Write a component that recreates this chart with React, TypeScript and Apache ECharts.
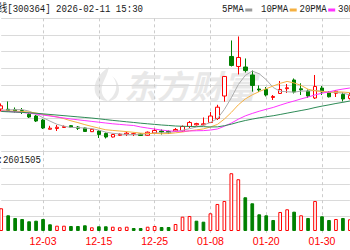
import React, { useEffect, useRef } from "react";
import * as echarts from "echarts";

// ---- data ----
const dates = [
  "11-25", "11-26", "11-27", "11-28", "12-01", "12-02", "12-03", "12-04", "12-05", "12-08",
  "12-09", "12-10", "12-11", "12-12", "12-15", "12-16", "12-17", "12-18", "12-19", "12-22",
  "12-23", "12-24", "12-25", "12-26", "12-29", "12-30", "12-31", "01-05", "01-06", "01-07",
  "01-08", "01-09", "01-12", "01-13", "01-14", "01-15", "01-16", "01-19", "01-20", "01-21",
  "01-22", "01-23", "01-26", "01-27", "01-28", "01-29", "01-30", "02-02", "02-03", "02-04",
  "02-05",
];
const opens = [
  26.40, 26.36, 26.33, 26.18, 25.61, 25.35, 24.75, 23.36, 23.48, 23.63,
  23.90, 23.70, 23.55, 23.00, 23.10, 22.73, 22.20, 22.46, 22.61, 22.58,
  22.65, 22.46, 22.80, 23.10, 23.03, 23.10, 23.10, 23.78, 24.03, 24.03,
  24.38, 24.98, 28.35, 34.28, 32.78, 32.70, 31.50, 29.40, 29.33, 28.13,
  28.73, 29.45, 30.75, 29.43, 29.10, 28.05, 29.55, 28.88, 28.76, 28.58,
  27.98,
];
const closes = [
  26.88, 26.18, 26.10, 26.03, 25.20, 24.60, 23.55, 23.52, 23.66, 23.78,
  23.66, 23.51, 23.03, 23.36, 22.58, 22.20, 22.58, 22.61, 22.77, 22.70,
  22.43, 22.92, 23.18, 22.95, 22.80, 23.33, 23.78, 24.38, 24.21, 24.18,
  25.35, 26.67, 31.28, 32.93, 34.13, 32.18, 29.93, 29.25, 28.50, 28.28,
  29.33, 29.58, 28.95, 29.28, 28.35, 29.78, 28.95, 28.23, 29.06, 27.90,
  28.43,
];
const lows = [
  26.03, 26.10, 25.88, 25.65, 25.05, 24.45, 23.40, 23.33, 23.10, 23.55,
  23.55, 23.25, 22.95, 22.95, 22.05, 21.98, 22.13, 22.35, 22.35, 22.35,
  22.35, 22.40, 22.73, 22.58, 22.65, 22.95, 22.95, 23.55, 23.91, 23.93,
  24.30, 24.75, 27.50, 32.78, 31.58, 31.88, 29.00, 28.95, 28.28, 27.75,
  28.65, 28.80, 28.73, 28.50, 28.05, 27.90, 28.50, 28.13, 28.20, 27.53,
  27.83,
];
const highs = [
  27.23, 27.53, 26.63, 26.55, 25.80, 25.50, 24.90, 23.88, 24.00, 23.93,
  24.00, 23.85, 23.60, 23.51, 23.25, 22.88, 22.70, 22.76, 23.00, 22.85,
  22.73, 23.03, 23.48, 23.33, 23.18, 23.55, 23.93, 24.60, 24.33, 25.13,
  25.95, 27.03, 31.35, 36.68, 37.28, 33.98, 32.18, 29.93, 29.70, 28.50,
  30.60, 30.15, 30.98, 30.26, 29.33, 31.50, 29.85, 29.10, 29.25, 28.88,
  28.80,
];
const volumes = [
  1410000, 975000, 807000, 745000, 602000, 640000, 745000, 416000, 329000, 329000,
  311000, 311000, 354000, 230000, 292000, 292000, 267000, 230000, 267000, 186000,
  186000, 267000, 311000, 248000, 248000, 435000, 888000, 932000, 640000, 578000,
  1099000, 1677000, 1863000, 3584000, 3211000, 2093000, 1720000, 1037000, 975000, 683000,
  1180000, 1348000, 1199000, 975000, 807000, 1863000, 913000, 683000, 745000, 807000,
  727000,
];
// moving-average values at the left edge, where earlier history is not in the picture
const ma5Head = [26.22, 26.27, 26.30, 26.31];
const ma10Head = [26.13, 26.10, 26.07, 26.03, 25.95, 25.80, 25.61, 25.41, 25.21];
const ma20Head = [
  26.10, 26.03, 25.95, 25.88, 25.77, 25.65, 25.50, 25.35, 25.20, 25.05,
  24.90, 24.78, 24.66, 24.54, 24.42, 24.30, 24.18, 24.09, 24.00,
];
const ma30Head = [
  26.03, 25.98, 25.94, 25.89, 25.83, 25.76, 25.67, 25.58, 25.49, 25.40,
  25.31, 25.22, 25.13, 25.04, 24.93, 24.81, 24.69, 24.59, 24.48, 24.38,
  24.27, 24.18, 24.09, 24.00, 23.93, 23.85, 23.81, 23.78, 23.76,
];
const maNames = ["5PMA", "10PMA", "20PMA", "30PMA"];
const maColors = ["#ababab", "#f5b041", "#ff33ff", "#2e8b57"];
const markerColors = ["#9a9a9a", "#f5b041", "#ff33ff", "#2e8b57"];
const headerText = "线[300364] 2026-02-11 15:30";
const volumeText = ":2601505";
const priceTicks = { min: 20, max: 40, interval: 2.5 };
const volumeTicks = { min: -111700, interval: 1000000, count: 5 };

const RED = "#ff0000";
const GREEN = "#008000";

function movingAverage(n: number, head: number[]) {
  return closes.map((_, i) => {
    if (i < head.length) return head[i];
    let s = 0;
    for (let j = i - n + 1; j <= i; j++) s += closes[j];
    return +(s / n).toFixed(3);
  });
}

const LOGO_D =
  "M16 0 C6 6 0 16 2 25 C3.5 31 9 34 15 34 C9 30 7 23 10 16 C12 11 15 6 16 0 Z " +
  "M19 9 C24 14 25 22 20 29 C18 31.5 16 33 15 34 C22 34 26 29 26 22 C26 17 23 12 19 9 Z";
let logoRegistered = false;

const isMarked = (i: number) => (i + 2) % 8 === 0;

export default function App() {
  const ref = useRef<HTMLDivElement>(null);
  useEffect(() => {
    document.body.style.margin = "0";
    if (!logoRegistered) {
      echarts.graphic.registerShape("emlogo", echarts.graphic.extendPath(LOGO_D, {}) as any);
      logoRegistered = true;
    }
    const chart = echarts.init(ref.current as HTMLDivElement, null, { renderer: "svg" });
    const mas = [
      movingAverage(5, ma5Head),
      movingAverage(10, ma10Head),
      movingAverage(20, ma20Head),
      movingAverage(30, ma30Head),
    ];
    const candleData = opens.map((o, i) => [o, closes[i], lows[i], highs[i]]);
    const volData = volumes.map((v, i) => {
      const up = i === 0 ? closes[0] >= opens[0] : closes[i] >= closes[i - 1];
      return {
        value: v,
        itemStyle: up
          ? { color: "#ffffff", borderColor: RED, borderWidth: 1 }
          : { color: GREEN, borderColor: GREEN, borderWidth: 1 },
      };
    });
    const dashed = { show: true, interval: isMarked, lineStyle: { color: "#cccccc", type: [3, 3], width: 1 } };
    const hLine = "#dadada";
    const mono = '11px "Liberation Mono", "Noto Sans CJK SC", monospace';
    const sx = 0.824;

    const legendX = [222, 261, 299.5, 338];
    const legendEls: any[] = [];
    maNames.forEach((n, i) => {
      legendEls.push({
        type: "text", x: legendX[i], y: 9.5, scaleX: sx,
        style: { text: n, font: mono, fill: "#1a1a1a", verticalAlign: "middle" },
      });
      legendEls.push({
        type: "rect", x: legendX[i] + n.length * 11 * 0.6 * sx + 1.5, y: 8.5,
        shape: { x: 0, y: 0, width: 7, height: 3 },
        style: { fill: markerColors[i] },
      });
    });

    chart.setOption({
      animation: false,
      grid: [
        { left: 1.2, top: 18.33, width: 348.7, height: 133.34 },
        { left: 1.2, top: 152.2, width: 348.7, height: 80.6 },
      ],
      xAxis: [
        {
          type: "category", gridIndex: 0, data: dates, boundaryGap: false,
          axisLine: { show: false }, axisTick: { show: false },
          axisLabel: { show: false, interval: isMarked }, splitLine: dashed,
        },
        {
          type: "category", gridIndex: 1, data: dates, boundaryGap: false,
          axisLine: { show: false }, axisTick: { show: false },
          axisLabel: {
            show: true, interval: isMarked, color: RED, fontSize: 10.5,
            fontFamily: "Liberation Sans", margin: 3,
          },
          splitLine: dashed,
        },
      ],
      yAxis: [
        {
          type: "value", gridIndex: 0, min: priceTicks.min, max: priceTicks.max, interval: priceTicks.interval,
          axisLine: { show: false }, axisTick: { show: false }, axisLabel: { show: false },
          splitLine: { show: true, lineStyle: { color: hLine, width: 1 } },
        },
        {
          type: "value", gridIndex: 1, min: volumeTicks.min,
          max: volumeTicks.min + volumeTicks.interval * volumeTicks.count,
          interval: volumeTicks.interval,
          axisLine: { show: false }, axisTick: { show: false }, axisLabel: { show: false },
          splitLine: {
            show: true,
            lineStyle: { color: ["rgba(0,0,0,0)", hLine, hLine, hLine, hLine, "rgba(0,0,0,0)"], width: 1 },
          },
        },
      ],
      graphic: {
        elements: [
          {
            type: "emlogo", x: 93, y: 67, scaleX: 1, scaleY: 1, z: -1,
            style: { fill: "#e8e8e8" },
          },
          {
            type: "text", x: 124, y: 85, z: -1,
            style: {
              text: "东方财富", font: 'italic bold 33px "Noto Sans CJK SC"',
              fill: "#e8e8e8", verticalAlign: "middle",
            },
          },
          {
            type: "text", x: -1.8, y: 9.5, scaleX: sx,
            style: { text: headerText, font: mono, fill: "#1a1a1a", verticalAlign: "middle" },
          },
          {
            type: "text", x: -2.5, y: 160.5, scaleX: sx,
            style: { text: volumeText, font: mono, fill: "#1a1a1a", verticalAlign: "middle" },
          },
          ...legendEls,
        ],
      },
      series: [
        {
          type: "candlestick", xAxisIndex: 0, yAxisIndex: 0, data: candleData,
          barWidth: 4, clip: false,
          itemStyle: { color: "#ffffff", color0: GREEN, borderColor: RED, borderColor0: GREEN, borderWidth: 1 },
        },
        ...mas.map((d, i) => ({
          type: "line", name: maNames[i], xAxisIndex: 0, yAxisIndex: 0, data: d,
          symbol: "none", showSymbol: false, silent: true,
          lineStyle: { width: 1, color: maColors[i] }, itemStyle: { color: maColors[i] },
        })),
        {
          type: "bar", xAxisIndex: 1, yAxisIndex: 1, data: volData, barWidth: 3.7, clip: false,
        },
      ],
    });
    return () => chart.dispose();
  }, []);
  return <div ref={ref} style={{ width: 350, height: 250 }} />;
}
